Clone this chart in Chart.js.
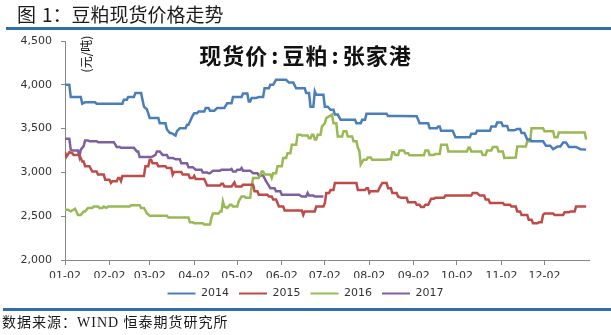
<!DOCTYPE html>
<html><head><meta charset="utf-8">
<script src="https://cdn.jsdelivr.net/npm/chart.js@4.4.0/dist/chart.umd.min.js"></script>
<style>
html,body{margin:0;padding:0;background:#fff;}
#wrap{position:relative;width:611px;height:335px;overflow:hidden;background:#fff;}
#cv{position:absolute;left:0;top:0;}
#ttl{position:absolute;left:17px;top:4px;font-family:"Noto Sans CJK SC";font-size:19px;line-height:19px;color:#1a1a1a;white-space:nowrap;}
#ttl .sp{display:inline-block;width:6px;}
.bar{position:absolute;height:3px;background:#2f6ea8;}
#src{position:absolute;left:2px;top:316px;font-family:"Liberation Serif","Noto Sans CJK SC";font-size:14px;line-height:14px;letter-spacing:1px;color:#1a1a1a;white-space:nowrap;}
#inner{position:absolute;left:0;width:611px;top:43px;text-align:center;font-family:"Noto Sans CJK SC";font-weight:bold;font-size:22px;line-height:22px;letter-spacing:1px;color:#111;white-space:nowrap;}
#inner span{padding:0 3px;}
#unit{position:absolute;left:86px;top:54px;transform:translate(-50%,-50%) rotate(-90deg);font-family:"Noto Sans CJK SC";font-size:12px;line-height:12px;color:#111;white-space:nowrap;}
</style></head><body>
<div id="wrap">
<canvas id="cv" width="611" height="309" style="width:611px;height:309px"></canvas>
<div id="ttl">图<span class="sp"></span>1：豆粕现货价格走势</div>
<div class="bar" style="left:6px;top:27px;width:605px"></div>
<div id="inner">现货价<span>:</span>豆粕<span>:</span>张家港</div>
<div id="unit">(元/吨)</div>
<div class="bar" style="left:3px;top:308px;width:608px"></div>
<div id="src">数据来源：WIND 恒泰期货研究所</div>
</div>
<script>
const seriesNames = ['2014', '2015', '2016', '2017'];
const seriesColors = ['#4A7EBB', '#BE4B48', '#98B954', '#7D60A0'];
const monthTickDays = [0, 31, 59, 90, 120, 151, 181, 212, 243, 273, 304, 334];
const monthTickLabels = ['01-02','02-02','03-02','04-02','05-02','06-02','07-02','08-02','09-02','10-02','11-02','12-02'];
const yTicks = [2000, 2500, 3000, 3500, 4000, 4500];

// [day offset from 01-02, price]
const s2014 = [[0,4000],[3,4000],[4,3860],[11,3860],[12,3785],[14,3800],[21,3800],[22,3785],[40,3785],[41,3830],
[43,3830],[44,3860],[48,3860],[49,3905],[53,3905],[55,3750],[57,3720],[58,3675],[59,3620],[65,3620],
[66,3560],[70,3560],[71,3490],[73,3450],[74,3450],[77,3420],[78,3470],[80,3505],[84,3505],[85,3545],
[86,3545],[89,3650],[90,3675],[92,3675],[93,3695],[97,3695],[98,3735],[100,3735],[101,3705],[104,3705],
[106,3735],[111,3735],[113,3790],[116,3790],[117,3860],[123,3860],[124,3900],[127,3900],[128,3810],[129,3810],
[130,3850],[133,3850],[135,3860],[138,3860],[139,3960],[142,3960],[143,4000],[145,4000],[147,4057],[154,4057],
[156,4025],[159,4025],[161,3960],[167,3960],[168,3905],[170,3905],[171,3750],[173,3750],[174,3925],[175,3885],
[180,3885],[181,3750],[183,3750],[185,3715],[187,3715],[188,3660],[190,3660],[192,3600],[202,3600],[203,3560],
[206,3560],[207,3600],[209,3600],[210,3670],[224,3670],[225,3645],[233,3645],[245,3640],[246,3600],[247,3560],
[253,3560],[254,3505],[259,3505],[260,3525],[261,3525],[262,3475],[270,3475],[272,3400],[282,3400],[283,3440],
[286,3440],[287,3475],[296,3475],[297,3525],[300,3525],[301,3570],[304,3570],[305,3530],[308,3530],[309,3480],
[313,3480],[315,3495],[317,3495],[318,3450],[320,3450],[322,3375],[324,3375],[325,3355],[333,3355],[335,3305],
[338,3305],[340,3265],[343,3295],[345,3295],[347,3340],[349,3340],[351,3290],[356,3290],[359,3265],[363,3260]];

const s2015 = [[0,3230],[1,3180],[3,3230],[5,3220],[6,3200],[10,3200],[12,3125],[13,3125],[14,3070],[17,3070],
[19,3010],[22,3010],[23,2975],[27,2975],[28,2915],[31,2915],[32,2880],[33,2900],[36,2900],[37,2935],
[38,2935],[39,2900],[40,2960],[55,2960],[56,3070],[58,3070],[59,3145],[60,3145],[61,3105],[64,3105],
[65,3070],[70,3070],[71,3050],[74,3050],[75,2975],[76,3005],[81,3005],[82,2975],[86,2975],[87,2935],
[89,2935],[90,2960],[91,2925],[97,2925],[99,2850],[108,2850],[109,2870],[110,2870],[111,2840],[116,2840],
[118,2885],[119,2840],[123,2840],[124,2860],[131,2860],[132,2785],[134,2785],[135,2745],[141,2745],[142,2725],
[144,2725],[145,2690],[147,2690],[149,2610],[152,2610],[153,2565],[165,2565],[166,2515],[167,2555],[174,2555],
[175,2610],[180,2610],[181,2650],[182,2765],[184,2765],[185,2800],[187,2800],[188,2880],[203,2880],[204,2800],
[209,2800],[210,2820],[211,2820],[212,2765],[213,2785],[218,2785],[219,2820],[221,2880],[224,2880],[225,2820],
[227,2820],[228,2765],[231,2765],[232,2725],[234,2710],[238,2710],[239,2660],[244,2660],[245,2630],[247,2630],
[248,2605],[250,2605],[251,2630],[253,2630],[255,2700],[257,2700],[258,2710],[264,2710],[265,2735],[283,2735],
[284,2765],[287,2765],[289,2735],[292,2735],[293,2690],[295,2690],[296,2650],[305,2650],[306,2630],[310,2630],
[311,2610],[314,2610],[315,2555],[317,2555],[318,2515],[322,2515],[323,2460],[325,2460],[326,2420],[329,2420],
[330,2430],[332,2430],[333,2515],[334,2530],[340,2530],[341,2515],[347,2515],[348,2545],[351,2545],[352,2555],
[355,2555],[356,2610],[363,2610]];

const s2016 = [[0,2575],[2,2575],[4,2555],[7,2585],[8,2550],[9,2515],[11,2515],[13,2555],[14,2555],[16,2595],
[19,2595],[20,2610],[23,2610],[24,2595],[26,2595],[27,2610],[29,2595],[30,2610],[45,2610],[46,2625],
[52,2625],[53,2595],[55,2595],[57,2535],[59,2505],[71,2505],[72,2485],[86,2485],[87,2430],[89,2430],
[90,2420],[96,2420],[97,2405],[101,2405],[102,2480],[103,2530],[107,2530],[108,2555],[109,2555],[110,2670],
[111,2610],[113,2595],[115,2630],[116,2630],[117,2610],[120,2610],[121,2670],[123,2725],[125,2725],[126,2710],
[129,2710],[130,2840],[131,2935],[135,2935],[137,3010],[138,3010],[139,2975],[143,2975],[144,2935],[145,2990],
[147,2990],[148,3070],[151,3070],[152,3165],[154,3165],[155,3220],[157,3220],[158,3315],[161,3315],[162,3430],
[164,3430],[165,3420],[169,3420],[170,3390],[171,3390],[172,3430],[173,3430],[174,3375],[175,3375],[176,3430],
[178,3430],[179,3525],[181,3560],[182,3620],[184,3640],[186,3660],[187,3560],[189,3560],[190,3410],[193,3410],
[194,3470],[196,3470],[197,3410],[200,3410],[201,3355],[203,3355],[204,3280],[205,3250],[206,3090],[208,3145],
[210,3145],[211,3170],[213,3170],[214,3145],[224,3145],[225,3150],[227,3150],[228,3230],[229,3230],[230,3200],
[232,3200],[233,3250],[236,3250],[237,3220],[239,3220],[240,3195],[250,3195],[251,3250],[253,3250],[254,3200],
[257,3200],[258,3210],[261,3210],[262,3315],[266,3315],[267,3240],[280,3240],[281,3280],[282,3280],[283,3240],
[290,3240],[291,3200],[293,3200],[294,3250],[297,3250],[298,3290],[301,3290],[302,3240],[305,3240],[306,3165],
[314,3170],[315,3295],[321,3295],[322,3355],[324,3355],[325,3505],[333,3505],[334,3470],[340,3470],[341,3400],
[343,3400],[344,3455],[362,3455],[363,3375]];

const s2017 = [[0,3385],[3,3385],[4,3260],[5,3250],[9,3250],[10,3180],[11,3260],[13,3300],[14,3365],[16,3365],
[17,3355],[22,3355],[23,3345],[34,3345],[36,3290],[38,3290],[39,3280],[48,3280],[50,3240],[51,3240],
[52,3175],[59,3175],[61,3180],[63,3200],[64,3240],[66,3240],[68,3200],[71,3200],[72,3165],[75,3165],
[77,3150],[80,3150],[81,3105],[85,3105],[86,3060],[89,3060],[91,3030],[95,3030],[96,3000],[99,3000],
[100,2990],[101,2990],[103,3020],[108,3020],[109,3030],[115,3030],[116,3040],[117,3010],[119,3010],[120,3030],
[122,3030],[123,3050],[124,3020],[129,3020],[131,2990],[134,2990],[135,2965],[138,2965],[140,2900],[142,2850],
[143,2820],[146,2820],[147,2785],[150,2785],[151,2745],[163,2745],[165,2725],[168,2725],[169,2765],[170,2735],
[173,2735],[174,2725],[180,2725]];

const allSeries = [s2014, s2015, s2016, s2017];
const FONT = 'DejaVu Sans';
const AXIS = '#868686';

const datasets = allSeries.map((s, i) => ({
  label: seriesNames[i],
  data: s.map(([x, y]) => ({x, y})),
  borderColor: seriesColors[i],
  backgroundColor: seriesColors[i],
  borderWidth: 2.5,
  pointRadius: 0,
  tension: 0,
  fill: false
}));

new Chart(document.getElementById('cv'), {
  type: 'line',
  data: {datasets},
  options: {
    responsive: false,
    animation: false,
    layout: {padding: {left: 0, right: 0, top: 41, bottom: 0}},
    plugins: {
      tooltip: {enabled: false},
      legend: {
        position: 'bottom',
        labels: {
          boxWidth: 28, boxHeight: 2, padding: 10, color: '#333',
          font: {family: FONT, size: 11},
          generateLabels(chart) {
            const items = Chart.defaults.plugins.legend.labels.generateLabels(chart);
            items.forEach(it => { it.lineWidth = 0; it.fillStyle = it.strokeStyle; });
            return items;
          }
        }
      }
    },
    scales: {
      x: {
        type: 'linear', min: 0, max: 365,
        afterBuildTicks(s) { s.ticks = monthTickDays.map(v => ({value: v})); },
        afterFit(s) { s.height = 18; },
        ticks: {
          autoSkip: false, maxRotation: 0, minRotation: 0, padding: 5, color: '#333',
          font: {family: FONT, size: 11},
          callback(v) { const i = monthTickDays.indexOf(v); return i >= 0 ? monthTickLabels[i] : ''; }
        },
        grid: {drawOnChartArea: false, drawTicks: true, tickLength: 5, color: AXIS},
        border: {color: AXIS, width: 1}
      },
      y: {
        min: 2000, max: 4500,
        afterBuildTicks(s) { s.ticks = yTicks.map(v => ({value: v})); },
        afterFit(s) { s.width = 65; },
        ticks: {
          padding: 9, color: '#333', font: {family: FONT, size: 11},
          callback(v) { return v.toLocaleString('en-US'); }
        },
        grid: {drawOnChartArea: false, drawTicks: true, tickLength: 4, color: AXIS},
        border: {color: AXIS, width: 1}
      },
      yR: {
        position: 'right', display: true,
        grid: {display: false}, border: {display: false}, ticks: {display: false},
        afterFit(s) { s.width = 22; }
      }
    }
  }
});
</script>
</body></html>
